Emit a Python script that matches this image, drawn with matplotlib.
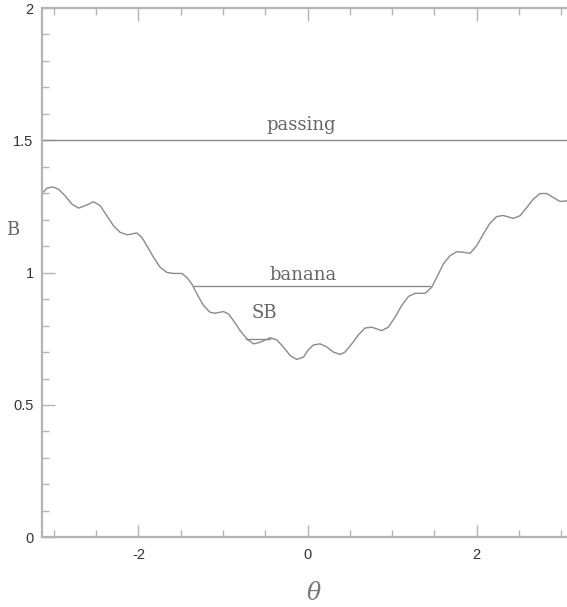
import numpy as np
import matplotlib
matplotlib.use("Agg")
import matplotlib.pyplot as plt
from matplotlib.ticker import MultipleLocator

plt.rcParams["axes.unicode_minus"] = False

# field strength along the line, B(theta)
theta = [-3.142, -3.083, -3.012, -2.945, -2.866, -2.788, -2.709, -2.630,
         -2.532, -2.453, -2.374, -2.295, -2.216, -2.130, -2.019, -1.960,
         -1.901, -1.822, -1.743, -1.665, -1.586, -1.487, -1.428, -1.369,
         -1.310, -1.231, -1.152, -1.093, -0.995, -0.936, -0.877, -0.798,
         -0.719, -0.640, -0.561, -0.443, -0.364, -0.286, -0.207, -0.128,
         -0.049, 0.0, 0.069, 0.148, 0.227, 0.305, 0.384, 0.443, 0.522,
         0.601, 0.680, 0.759, 0.877, 0.955, 1.034, 1.113, 1.192, 1.271,
         1.389, 1.468, 1.527, 1.606, 1.684, 1.763, 1.842, 1.921, 2.000,
         2.078, 2.157, 2.236, 2.315, 2.433, 2.512, 2.591, 2.669, 2.748,
         2.827, 2.906, 2.985, 3.063, 3.142]
B = [1.299, 1.319, 1.324, 1.315, 1.290, 1.259, 1.244, 1.253,
     1.268, 1.253, 1.215, 1.177, 1.152, 1.143, 1.150, 1.133,
     1.102, 1.058, 1.020, 1.001, 0.997, 0.997, 0.982, 0.957,
     0.920, 0.876, 0.850, 0.847, 0.853, 0.844, 0.819, 0.781,
     0.750, 0.731, 0.737, 0.754, 0.746, 0.719, 0.687, 0.672,
     0.681, 0.705, 0.727, 0.731, 0.719, 0.700, 0.691, 0.700, 0.731,
     0.765, 0.791, 0.794, 0.781, 0.794, 0.832, 0.876, 0.910, 0.922,
     0.922, 0.945, 0.982, 1.033, 1.064, 1.079, 1.077, 1.073, 1.102,
     1.146, 1.187, 1.212, 1.216, 1.205, 1.215, 1.246, 1.278, 1.299,
     1.299, 1.284, 1.269, 1.271, 1.285]

# orbit levels and where the trapped ones reflect
passing_level = 1.5
banana_level = 0.95
banana_span = [-1.34, 1.45]
sb_level = 0.75
sb_span = [-0.73, -0.44]

line_col = "#8a8a8a"
axis_col = "#b4b4b4"
text_col = "#666666"
serif = "DejaVu Serif"

fig = plt.figure(figsize=(5.67, 6.07), dpi=100)
ax = fig.add_axes([0.074, 0.1148, 0.937, 0.872])

ax.plot(theta, B, color=line_col, lw=1.0)
ax.axhline(passing_level, color=line_col, lw=1.0)
ax.plot(banana_span, [banana_level] * 2, color=line_col, lw=1.0)
ax.plot(sb_span, [sb_level] * 2, color=line_col, lw=1.0)

ax.text(-0.07, passing_level + 0.025, "passing", family=serif, fontsize=13,
        color=text_col, ha="center", va="bottom")
ax.text(-0.05, banana_level + 0.006, "banana", family=serif, fontsize=13,
        color=text_col, ha="center", va="bottom")
ax.text(-0.51, 0.812, "SB", family=serif, fontsize=13,
        color=text_col, ha="center", va="bottom")

ax.set_xlim(-np.pi, np.pi)
ax.set_ylim(0, 2)
ax.xaxis.set_major_locator(MultipleLocator(2))
ax.xaxis.set_minor_locator(MultipleLocator(0.5))
ax.yaxis.set_major_locator(MultipleLocator(0.5))
ax.yaxis.set_minor_locator(MultipleLocator(0.1))
ax.yaxis.set_major_formatter(plt.FuncFormatter(lambda v, p: f"{v:g}"))

ax.tick_params(which="both", direction="in", color=axis_col, width=1.0,
               top=True, labelcolor="#333333", labelsize=10.5)
ax.tick_params(which="major", length=9)
ax.tick_params(which="minor", length=5)
ax.tick_params(axis="x", pad=8)
ax.tick_params(axis="y", pad=6)
for lab in ax.get_xticklabels() + ax.get_yticklabels():
    lab.set_family("Liberation Sans")

for s in ax.spines.values():
    s.set_color(axis_col)
    s.set_linewidth(1.6)

fig.text(13 / 567, 1 - 230 / 607, "B", family=serif, fontsize=13,
         color=text_col, ha="center", va="center")
fig.text(314 / 567, 1 - 594 / 607, "\u03b8", family=serif, style="italic",
         fontsize=17, color="#777777", ha="center", va="center")

fig.savefig("out.png", dpi=100)
